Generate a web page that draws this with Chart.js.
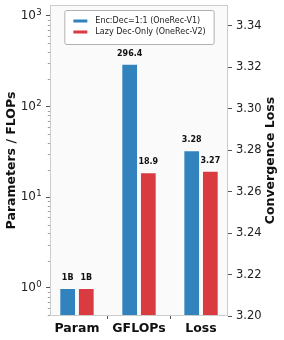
<!DOCTYPE html>
<html><head><meta charset="utf-8">
<script src="https://cdn.jsdelivr.net/npm/chart.js@4.4.1/dist/chart.umd.min.js"></script>
<style>html,body{margin:0;padding:0;background:#fff}canvas{display:block}</style>
</head><body>
<canvas id="c" width="284" height="340"></canvas>
<script>
const categories = ['Param', 'GFLOPs', 'Loss'];
const seriesNames = ['Enc:Dec=1:1 (OneRec-V1)', 'Lazy Dec-Only (OneRec-V2)'];
// Param (B) and GFLOPs on the left log axis
const v1Left = [1, 296.4, null];
const v2Left = [1, 18.9, null];
// Convergence loss on the right axis
const v1Right = [null, null, 3.28];
const v2Right = [null, null, 3.27];
const v1Text = ['1B', '296.4', '3.28'];
const v2Text = ['1B', '18.9', '3.27'];
const leftTicks = [1, 10, 100, 1000];
const leftTickBase = '10';
const leftTickExp = ['0', '1', '2', '3'];
const rightTicks = [3.20, 3.22, 3.24, 3.26, 3.28, 3.30, 3.32, 3.34];
const colors = ['#3182bd', '#d93b40'];

const FONT = "'DejaVu Sans', sans-serif";
const toXY = arr => arr.map((v, i) => ({x: i, y: v}));

function ds(label, arr, color, axis, texts) {
  return {
    label, data: toXY(arr), yAxisID: axis, backgroundColor: color,
    borderColor: 'rgba(255,255,255,0.55)', borderWidth: 1,
    categoryPercentage: 0.6, barPercentage: 0.9, skipNull: true, texts
  };
}

const framePlugin = {
  id: 'frame',
  beforeDraw(chart) {
    const a = chart.chartArea, c = chart.ctx;
    c.save(); c.fillStyle = '#fafafa'; c.fillRect(a.left, a.top, a.right - a.left, a.bottom - a.top); c.restore();
  },
  afterDatasetsDraw(chart) {
    const a = chart.chartArea, c = chart.ctx;
    c.save();
    // value labels
    c.font = "bold 8px " + FONT; c.fillStyle = '#111'; c.textAlign = 'center'; c.textBaseline = 'middle';
    chart.data.datasets.forEach((d, di) => {
      const meta = chart.getDatasetMeta(di);
      meta.data.forEach((el, i) => {
        if (d.data[i].y == null) return;
        c.fillText(d.texts[i], el.x, el.y - 10);
      });
    });
    const ys = chart.scales.y;
    // exponents of the log-axis tick labels
    c.font = "8.5px " + FONT; c.fillStyle = '#222'; c.textAlign = 'left'; c.textBaseline = 'alphabetic';
    leftTicks.forEach((v, i) => {
      const py = ys.getPixelForValue(v);
      c.fillText(leftTickExp[i], 36.3, py - 1);
    });
    // minor ticks on log axis
    c.strokeStyle = '#888'; c.lineWidth = 0.8;
    for (let k = -1; k <= 3; k++) {
      for (let m = 2; m <= 9; m++) {
        const v = m * Math.pow(10, k);
        if (v < ys.min || v > ys.max) continue;
        const py = Math.round(ys.getPixelForValue(v)) + 0.5;
        c.beginPath(); c.moveTo(a.left, py); c.lineTo(a.left - 2.2, py); c.stroke();
      }
    }
    // frame
    c.strokeStyle = '#cccccc'; c.lineWidth = 1;
    c.strokeRect(a.left + 0.5, a.top + 0.5, a.right - a.left - 1, a.bottom - a.top - 1);
    // legend
    c.font = "8px " + FONT;
    const tw = Math.max(...seriesNames.map(s => c.measureText(s).width));
    const w = 9 + 14 + 8 + tw + 8, h = 34;
    const lx = (a.left + a.right) / 2 - w / 2, ly = a.top + 5;
    c.beginPath();
    if (c.roundRect) c.roundRect(lx + 0.5, ly + 0.5, w, h, 2); else c.rect(lx + 0.5, ly + 0.5, w, h);
    c.fillStyle = 'rgba(255,255,255,0.85)'; c.fill();
    c.strokeStyle = '#b0b0b0'; c.lineWidth = 1; c.stroke();
    seriesNames.forEach((s, i) => {
      const yy = ly + 11 + i * 11;
      c.fillStyle = colors[i]; c.fillRect(lx + 9, yy - 1.5, 14, 3);
      c.fillStyle = '#222'; c.textAlign = 'left'; c.textBaseline = 'middle';
      c.fillText(s, lx + 31, yy);
    });
    // right axis title
    c.font = "bold 12.5px " + FONT; c.fillStyle = '#111'; c.textAlign = 'center'; c.textBaseline = 'middle';
    c.translate(271, (a.top + a.bottom) / 2); c.rotate(-Math.PI / 2);
    c.fillText('Convergence Loss', 0, 0);
    c.restore();
  }
};

new Chart(document.getElementById('c'), {
  type: 'bar',
  data: {
    datasets: [
      ds(seriesNames[0], v1Left, colors[0], 'y', v1Text),
      ds(seriesNames[1], v2Left, colors[1], 'y', v2Text),
      ds(seriesNames[0], v1Right, colors[0], 'y1', v1Text),
      ds(seriesNames[1], v2Right, colors[1], 'y1', v2Text)
    ]
  },
  options: {
    responsive: false, animation: false, devicePixelRatio: 1,
    layout: {padding: {top: 5, left: 0, right: 0, bottom: 0}},
    plugins: {legend: {display: false}, tooltip: {enabled: false}},
    scales: {
      x: {
        type: 'linear', min: -0.435, max: 2.435, offset: false,
        afterBuildTicks: s => { s.ticks = categories.map((c, i) => ({value: i})); },
        afterFit: s => { s.height = 24; s.paddingLeft = 0; s.paddingRight = 0; },
        ticks: {autoSkip: false, padding: 2, color: '#111', font: {family: FONT, size: 12.5, weight: 'bold'},
          callback: v => categories[v]},
        grid: {drawOnChartArea: false, drawTicks: true, tickLength: 3, tickColor: '#555'},
        border: {display: false}
      },
      y: {
        type: 'logarithmic', position: 'left', min: 0.49, max: 1320,
        afterBuildTicks: s => { s.ticks = leftTicks.map(v => ({value: v, major: true})); },
        afterFit: s => { s.width = 50; s.paddingTop = 0; s.paddingBottom = 0; },
        ticks: {padding: 10, color: '#222', font: {family: FONT, size: 12},
          callback: v => leftTickBase},
        grid: {drawOnChartArea: false, drawTicks: true, tickLength: 4, tickColor: '#555'},
        border: {display: false},
        title: {display: true, text: 'Parameters / FLOPs', color: '#111',
          font: {family: FONT, size: 12.5, weight: 'bold', lineHeight: 1.2}, padding: {top: 4.5, bottom: 0}}
      },
      y1: {
        type: 'linear', position: 'right', min: 3.20, max: 3.35,
        afterBuildTicks: s => { s.ticks = rightTicks.map(v => ({value: v})); },
        afterFit: s => { s.width = 56; s.paddingTop = 0; s.paddingBottom = 0; },
        ticks: {padding: 4, color: '#222', font: {family: FONT, size: 11.5},
          callback: v => v.toFixed(2)},
        grid: {drawOnChartArea: false, drawTicks: true, tickLength: 4, tickColor: '#555'},
        border: {display: false}
      }
    }
  },
  plugins: [framePlugin]
});
</script>
</body></html>
